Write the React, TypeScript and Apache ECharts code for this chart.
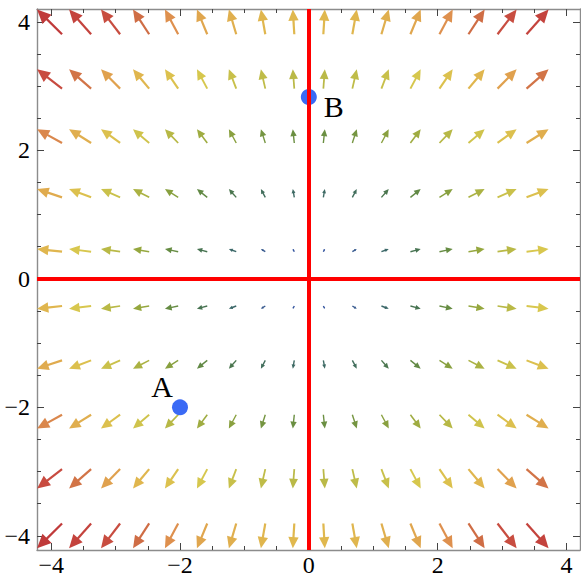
import React, { useEffect, useRef } from "react";
import * as echarts from "echarts";

// Grid of sample points of the vector plot
const X_GRID = [-4.025, -3.551, -3.078, -2.604, -2.131, -1.657, -1.184, -0.71, -0.237, 0.237, 0.71, 1.184, 1.657, 2.131, 2.604, 3.078, 3.551];
const Y_GRID = [4, 3.111, 2.222, 1.333, 0.444, -0.444, -1.333, -2.222, -3.111, -4];
// The plotted field F(x, y) = (x, y) (radial, outward)
const FIELD = (x: number, y: number): [number, number] => [x, y];

const MAJOR_TICKS = [-4, -2, 0, 2, 4];
const MINOR_TICKS = [-4, -3.5, -3, -2.5, -2, -1.5, -1, -0.5, 0, 0.5, 1, 1.5, 2, 2.5, 3, 3.5, 4];

const POINT_NAMES = ["A", "B"];
const POINT_X = [-2, 0];
const POINT_Y = [-2, 2.83];

const X_MIN = -4.22, X_MAX = 4.21, Y_MIN = -4.22, Y_MAX = 4.2;

const COLOR_POS = [0, 0.08, 0.15, 0.24, 0.33, 0.41, 0.5, 0.59, 0.68, 0.74, 0.78, 0.82, 0.88, 1];
const COLOR_HEX = ["#34559e", "#3a5c8c", "#3c6868", "#487450", "#688e42", "#94a63e", "#b8b846", "#d8c84e", "#e0b84e", "#e0a64e", "#de904e", "#d07046", "#c84c40", "#c03a3a"];

function hexToRgb(h: string) {
  return [parseInt(h.slice(1, 3), 16), parseInt(h.slice(3, 5), 16), parseInt(h.slice(5, 7), 16)];
}
function colorAt(t: number) {
  t = Math.max(0, Math.min(1, t));
  for (let i = 0; i < COLOR_POS.length - 1; i++) {
    if (t <= COLOR_POS[i + 1]) {
      const f = (t - COLOR_POS[i]) / (COLOR_POS[i + 1] - COLOR_POS[i]);
      const a = hexToRgb(COLOR_HEX[i]), b = hexToRgb(COLOR_HEX[i + 1]);
      const c = a.map((v, k) => Math.round(v + (b[k] - v) * f));
      return `rgb(${c[0]},${c[1]},${c[2]})`;
    }
  }
  return COLOR_HEX[COLOR_HEX.length - 1];
}

const fmt = (v: number) => (v < 0 ? "\u2212" + Math.abs(v) : String(v));
const FONT = "'Liberation Serif', 'DejaVu Serif', serif";

export default function App() {
  const ref = useRef<HTMLDivElement>(null);
  useEffect(() => {
    if (!ref.current) return;
    const chart = echarts.init(ref.current, undefined, { renderer: "svg" });

    const arrows: number[][] = [];
    for (const y of Y_GRID) for (const x of X_GRID) {
      const [vx, vy] = FIELD(x, y);
      arrows.push([x, y, vx, vy, Math.hypot(vx, vy)]);
    }
    const mags = arrows.map((a) => a[4]);
    const mMin = Math.min(...mags), mMax = Math.max(...mags);
    const ARROW_SCALE = 0.0963; // data units per unit magnitude

    const frameColor = "#8c8c8c";
    const tickColor = "#444";
    const mkX = (pos: "bottom" | "top", major: boolean, labels: boolean) => ({
      type: "value", position: pos, min: X_MIN, max: X_MAX,
      axisLine: { show: major, onZero: false, lineStyle: { color: frameColor, width: 1.4 } },
      splitLine: { show: false },
      axisTick: { show: true, inside: true, length: major ? 7 : 4, customValues: major ? MAJOR_TICKS : MINOR_TICKS, lineStyle: { color: tickColor, width: 1 } },
      axisLabel: labels ? { show: true, customValues: MAJOR_TICKS, formatter: fmt, fontFamily: FONT, fontSize: 24, color: "#000", margin: 3 } : { show: false },
    });
    const mkY = (pos: "left" | "right", major: boolean, labels: boolean) => ({
      type: "value", position: pos, min: Y_MIN, max: Y_MAX,
      axisLine: { show: major, onZero: false, lineStyle: { color: frameColor, width: 1.4 } },
      splitLine: { show: false },
      axisTick: { show: true, inside: true, length: major ? 7 : 4, customValues: major ? MAJOR_TICKS : MINOR_TICKS, lineStyle: { color: tickColor, width: 1 } },
      axisLabel: labels ? { show: true, customValues: MAJOR_TICKS, formatter: fmt, fontFamily: FONT, fontSize: 24, color: "#000", margin: 7 } : { show: false },
    });

    chart.setOption({
      animation: false,
      backgroundColor: "#fff",
      grid: { left: 37, top: 9, width: 543, height: 542, containLabel: false },
      xAxis: [mkX("bottom", true, true), mkX("bottom", false, false), mkX("top", true, false), mkX("top", false, false)],
      yAxis: [mkY("left", true, true), mkY("left", false, false), mkY("right", true, false), mkY("right", false, false)],
      series: [
        {
          type: "custom",
          xAxisIndex: 0, yAxisIndex: 0,
          data: arrows,
          clip: false,
          z: 2,
          renderItem: (params: any, api: any) => {
            const x = api.value(0), y = api.value(1), vx = api.value(2), vy = api.value(3), mag = api.value(4);
            const c = api.coord([x, y]);
            const unitPx = api.size([1, 0])[0];
            const L = mag * ARROW_SCALE * unitPx;
            const dx = vx / mag, dy = -vy / mag;
            const tail = [c[0] - (dx * L) / 2, c[1] - (dy * L) / 2];
            const tip = [c[0] + (dx * L) / 2, c[1] + (dy * L) / 2];
            const headLen = Math.min(0.5 * L, 4.5 + 0.27 * L);
            const headW = headLen * 0.46;
            const base = [tip[0] - dx * headLen, tip[1] - dy * headLen];
            const nx = -dy, ny = dx;
            const col = colorAt((mag - mMin) / (mMax - mMin));
            return {
              type: "group",
              children: [
                {
                  type: "line",
                  shape: { x1: tail[0], y1: tail[1], x2: base[0] + dx * 1, y2: base[1] + dy * 1 },
                  style: { stroke: col, lineWidth: Math.min(2.2, Math.max(1.4, L * 0.09)) },
                },
                {
                  type: "polygon",
                  shape: { points: [tip, [base[0] + nx * headW, base[1] + ny * headW], [base[0] - nx * headW, base[1] - ny * headW]] },
                  style: { fill: col },
                },
              ],
            };
          },
        },
        {
          type: "line",
          xAxisIndex: 0, yAxisIndex: 0,
          data: [],
          z: 3,
          markLine: {
            silent: true,
            symbol: "none",
            label: { show: false },
            lineStyle: { color: "#ff0000", width: 4, type: "solid" },
            data: [{ xAxis: 0 }, { yAxis: 0 }],
          },
        },
        {
          type: "scatter",
          xAxisIndex: 0, yAxisIndex: 0,
          z: 4,
          symbolSize: 16,
          itemStyle: { color: "#3a6af5", opacity: 1 },
          data: POINT_NAMES.map((n, i) => ({
            name: n,
            value: [POINT_X[i], POINT_Y[i]],
            label: {
              show: true,
              formatter: "{b}",
              position: "inside",
              offset: i === 0 ? [-18, -21] : [25, 9],
              fontFamily: FONT,
              fontSize: 30,
              color: "#000",
            },
          })),
        },
      ],
    });
    return () => chart.dispose();
  }, []);
  return <div ref={ref} style={{ position: "fixed", left: 0, top: 0, width: 581, height: 577 }} />;
}
